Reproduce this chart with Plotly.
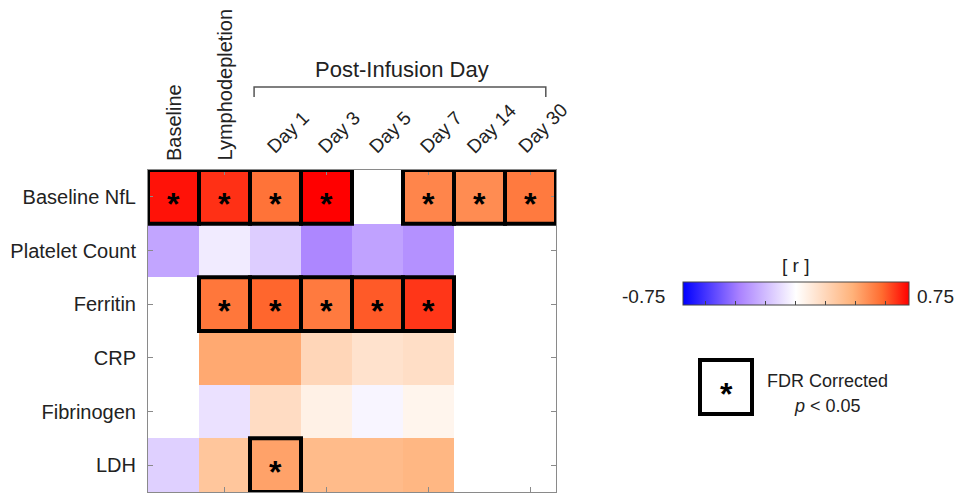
import plotly.graph_objects as go

# Timepoints (columns) and biomarkers (rows)
timepoints = ["Baseline", "Lymphodepletion", "Day 1", "Day 3", "Day 5", "Day 7", "Day 14", "Day 30"]
markers = ["Baseline NfL", "Platelet Count", "Ferritin", "CRP", "Fibrinogen", "LDH"]

# Correlation coefficients r (None = not available)
r_nfl = [0.72, 0.67, 0.55, 0.75, None, 0.50, 0.48, 0.53]
r_platelet = [-0.27, -0.06, -0.15, -0.36, -0.28, -0.33, None, None]
r_ferritin = [None, 0.54, 0.58, 0.53, 0.60, 0.66, None, None]
r_crp = [None, 0.40, 0.40, 0.20, 0.14, 0.16, None, None]
r_fibrinogen = [None, -0.09, 0.17, 0.07, -0.03, 0.05, None, None]
r_ldh = [-0.14, 0.28, 0.42, 0.33, 0.33, 0.35, None, None]

# FDR-corrected significance (p < 0.05)
sig_nfl = [1, 1, 1, 1, 0, 1, 1, 1]
sig_platelet = [0, 0, 0, 0, 0, 0, 0, 0]
sig_ferritin = [0, 1, 1, 1, 1, 1, 0, 0]
sig_crp = [0, 0, 0, 0, 0, 0, 0, 0]
sig_fibrinogen = [0, 0, 0, 0, 0, 0, 0, 0]
sig_ldh = [0, 0, 1, 0, 0, 0, 0, 0]

z = [r_nfl, r_platelet, r_ferritin, r_crp, r_fibrinogen, r_ldh]
sig = [sig_nfl, sig_platelet, sig_ferritin, sig_crp, sig_fibrinogen, sig_ldh]

FONT = "Liberation Sans, Arial, sans-serif"
TXT = "#222222"
AXC = "#8a8a8a"

colorscale = [
    [0.0, "rgb(0,0,255)"],
    [0.25, "rgb(170,130,255)"],
    [0.5, "rgb(255,255,255)"],
    [0.75, "rgb(255,178,122)"],
    [0.88, "rgb(255,108,48)"],
    [1.0, "rgb(255,0,0)"],
]

W, H = 958, 493


def note(x, y, text, size, xanchor="center", **kw):
    return dict(x=x, y=y, xref="paper", yref="paper", text=text, showarrow=False,
                xanchor=xanchor, yanchor="middle",
                font=dict(family=FONT, size=size, color=kw.pop("color", TXT)), **kw)


fig = go.Figure()
fig.add_trace(go.Heatmap(
    z=z, x=timepoints, y=markers,
    zmin=-0.75, zmax=0.75, colorscale=colorscale,
    hoverongaps=False,
    colorbar=dict(
        orientation="h",
        x=795.5 / W, xanchor="center",
        y=1 - 295.5 / H, yanchor="middle",
        lenmode="pixels", len=226, thickness=23,
        xpad=0, ypad=0,
        outlinecolor="#444444", outlinewidth=1,
        tickvals=[-0.6, -0.4, -0.2, 0, 0.2, 0.4, 0.6],
        ticks="inside", ticklen=4, tickcolor="#444444",
        showticklabels=False,
    ),
))

shapes = []
annotations = []

# Boxes and asterisks on significant cells
for i, row in enumerate(sig):
    for j, s in enumerate(row):
        if s:
            shapes.append(dict(type="rect", xref="x", yref="y",
                               x0=j - 0.5, x1=j + 0.5, y0=i - 0.5, y1=i + 0.5,
                               line=dict(color="black", width=4), layer="above"))
            annotations.append(dict(x=timepoints[j], y=markers[i], xref="x", yref="y",
                                    text="<b>*</b>", showarrow=False, yshift=-7,
                                    xanchor="center", yanchor="middle",
                                    font=dict(family=FONT, size=32, color="black")))

# Column labels above the grid
for j, t in enumerate(timepoints):
    if j < 2:
        annotations.append(dict(x=t, y=1 - 163 / H, xref="x", yref="paper",
                                text=t, textangle=-90, showarrow=False,
                                xanchor="center", yanchor="bottom",
                                font=dict(family=FONT, size=20, color=TXT)))
    else:
        annotations.append(dict(x=t, y=1 - 160 / H, xref="x", yref="paper",
                                text=t, textangle=-45, showarrow=False,
                                xanchor="center", yanchor="bottom", xshift=12,
                                font=dict(family=FONT, size=19, color=TXT)))

# Post-infusion bracket
shapes.append(dict(type="path", xref="x", yref="paper",
                   path=f"M 1.58 {1 - 97 / H} L 1.58 {1 - 87 / H} L 7.3 {1 - 87 / H} L 7.3 {1 - 97 / H}",
                   line=dict(color="#555555", width=1.5)))
annotations.append(dict(x=4.48, y=1 - 70 / H, xref="x", yref="paper",
                        text="Post-Infusion Day", showarrow=False,
                        xanchor="center", yanchor="middle",
                        font=dict(family=FONT, size=22, color=TXT)))

# Colorbar labels
annotations += [
    note(667 / W, 1 - 296 / H, "-0.75", 19, xanchor="right"),
    note(915 / W, 1 - 296 / H, "0.75", 19, xanchor="left"),
    note(795.5 / W, 1 - 265 / H, "[ r ]", 19),
]

# Significance key
shapes.append(dict(type="rect", xref="paper", yref="paper",
                   x0=700 / W, x1=752 / W, y0=1 - 414 / H, y1=1 - 360 / H,
                   line=dict(color="black", width=4)))
annotations += [
    note(726 / W, 1 - 387 / H, "<b>*</b>", 32, yshift=-7, color="black"),
    note(827 / W, 1 - 381 / H, "FDR Corrected", 18),
    note(827 / W, 1 - 406 / H, "<i>p</i> < 0.05", 18),
]

fig.update_layout(
    width=W, height=H,
    margin=dict(l=0, r=0, t=0, b=0, autoexpand=False),
    paper_bgcolor="white", plot_bgcolor="white",
    shapes=shapes, annotations=annotations,
    xaxis=dict(domain=[148 / W, 556 / W], range=[-0.5, 7.5], showticklabels=False,
               tickvals=[timepoints[1], timepoints[3], timepoints[5], timepoints[7]],
               ticks="inside", ticklen=5, tickcolor=AXC,
               showline=True, linecolor=AXC, linewidth=1, mirror="ticks",
               showgrid=False, zeroline=False),
    yaxis=dict(domain=[1 - 492 / H, 1 - 170 / H], range=[5.5, -0.5],
               ticks="inside", ticklen=5, tickcolor=AXC,
               showline=True, linecolor=AXC, linewidth=1, mirror="ticks",
               showgrid=False, zeroline=False, ticklabelstandoff=7,
               tickfont=dict(family=FONT, size=20, color=TXT)),
)

fig.write_html("out.html")
